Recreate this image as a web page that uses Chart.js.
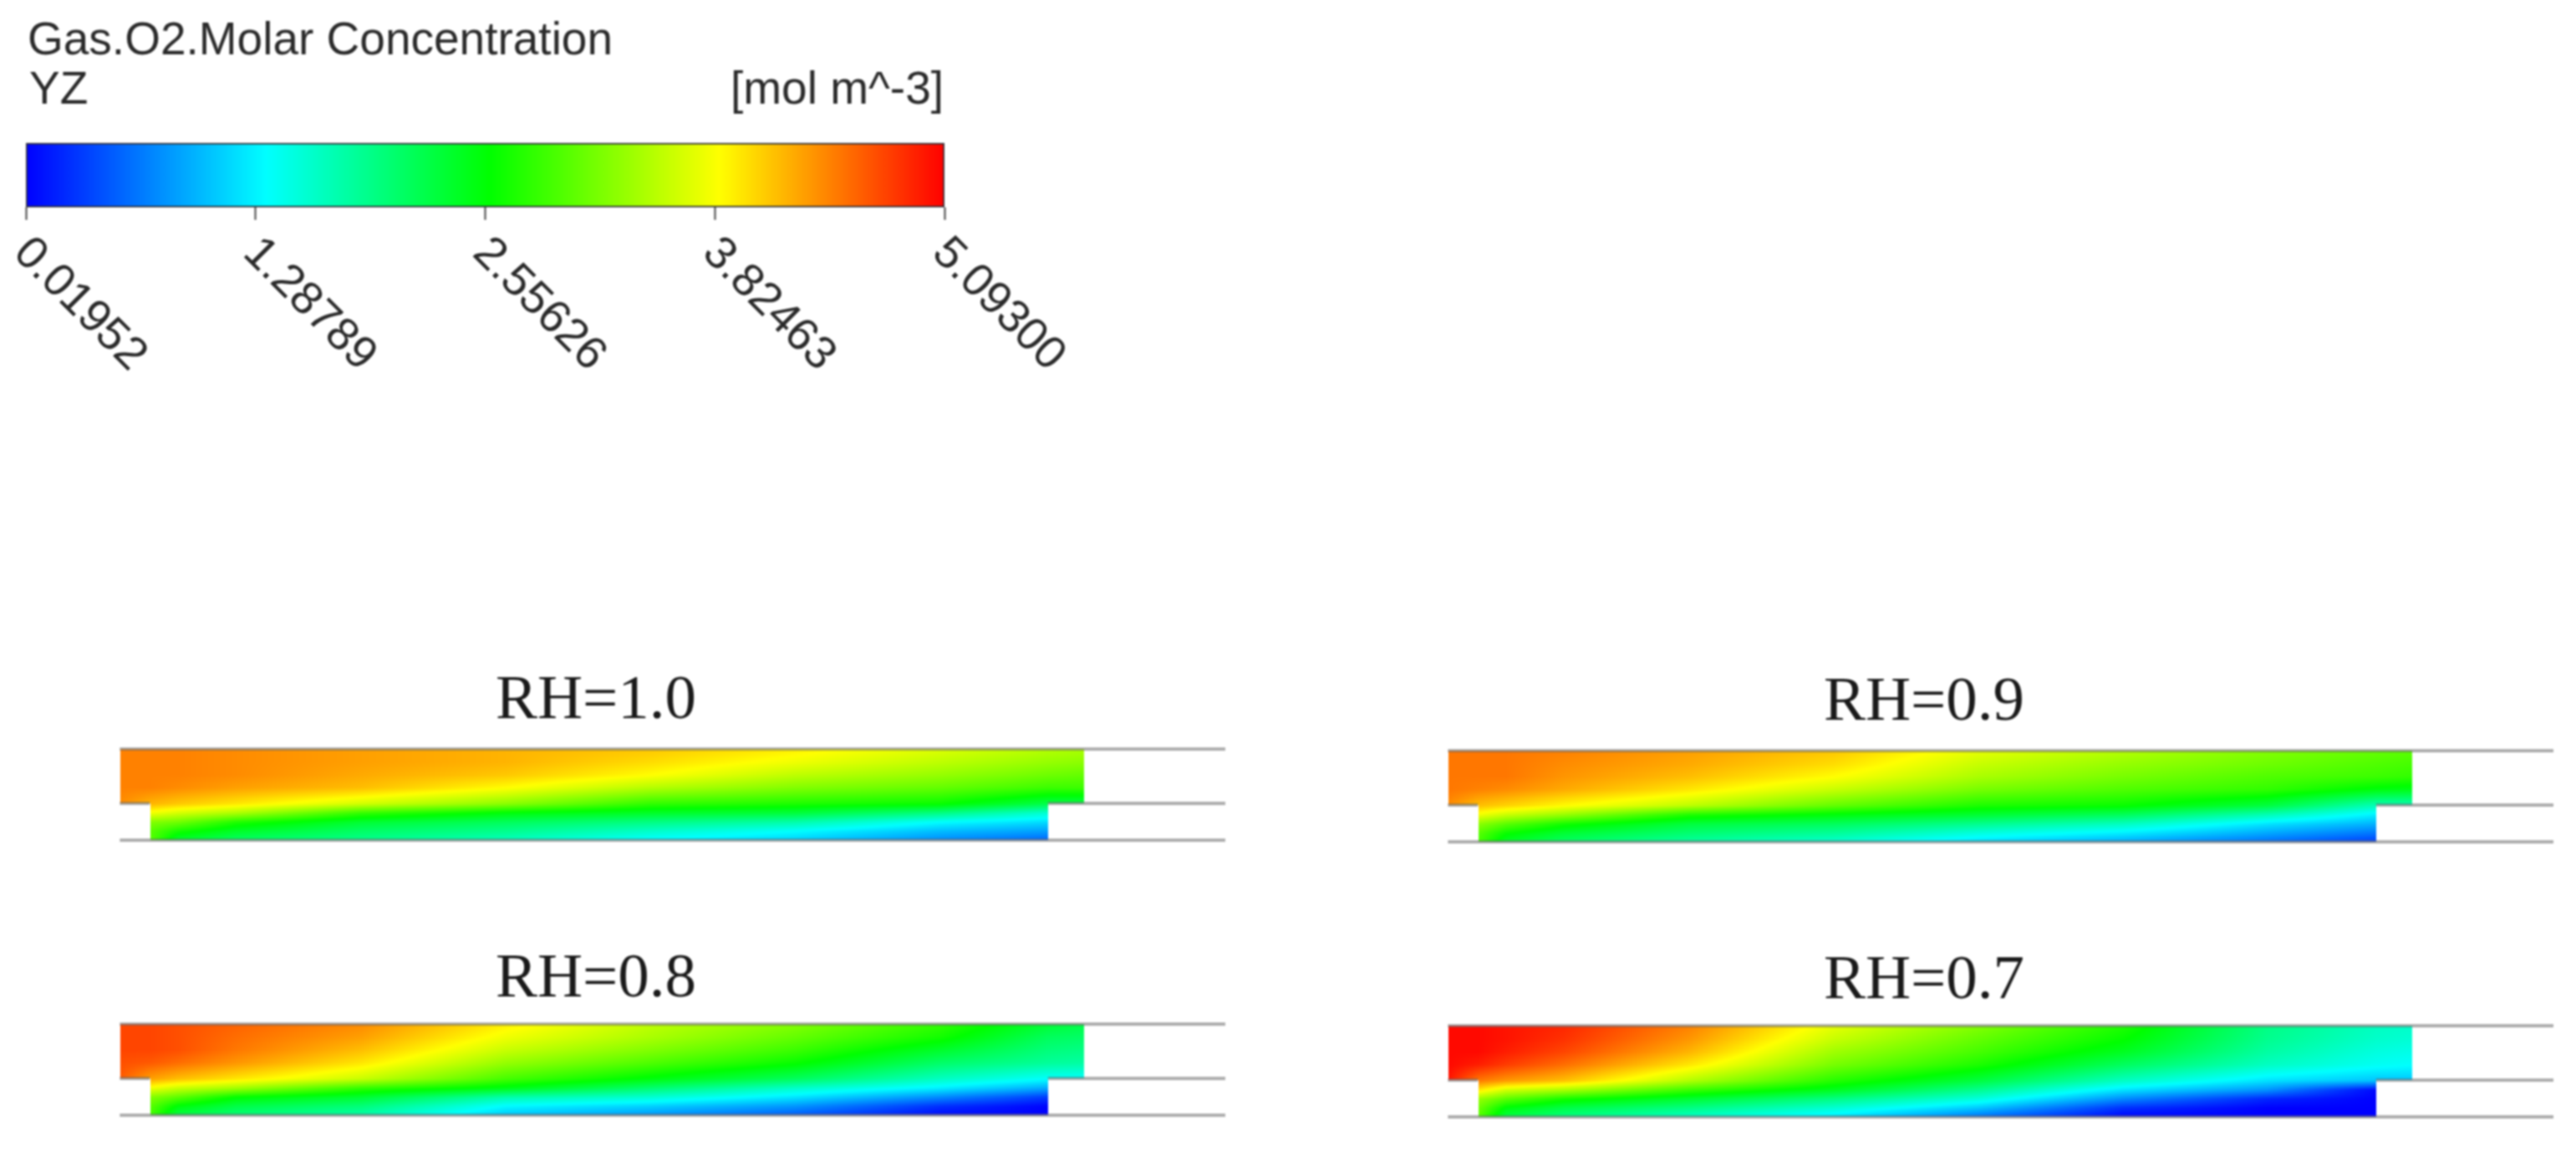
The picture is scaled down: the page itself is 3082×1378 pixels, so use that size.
<!DOCTYPE html>
<html>
<head>
<meta charset="utf-8">
<style>
  html, body { margin: 0; background: #fff; overflow: hidden; width: 3082px; height: 1378px; }
  canvas { position: absolute; filter: blur(0.9px); }
</style>
<script src="https://cdn.jsdelivr.net/npm/chart.js@4"></script>
</head>
<body>
<canvas id="legendChart" width="1300" height="480" style="left:0;top:0"></canvas>
<canvas id="panel10" width="1528" height="240" style="left:-51px;top:780px"></canvas>
<canvas id="panel09" width="1528" height="240" style="left:1538px;top:782px"></canvas>
<canvas id="panel08" width="1528" height="240" style="left:-51px;top:1109px"></canvas>
<canvas id="panel07" width="1528" height="240" style="left:1538px;top:1111px"></canvas>
<script>
// Colour bar
const legendTitle = 'Gas.O2.Molar Concentration';
const legendPlane = 'YZ';
const legendUnits = '[mol m^-3]';
const tickValues = [0.01952, 1.28789, 2.55626, 3.82463, 5.09300];
const tickLabels = ['0.01952', '1.28789', '2.55626', '3.82463', '5.09300'];
const barColors = [[0, 0, 255], [0, 255, 255], [0, 255, 0], [255, 255, 0], [255, 0, 0]];
const barStops = [0, 0.262, 0.505, 0.755, 1];

// Grid nodes of the four fields (fraction of the wide channel, fraction of the height)
const xNodes = [0, 0.031, 0.06, 0.12, 0.25, 0.4, 0.55, 0.7, 0.85, 0.963, 1];
const yNodes = [1, 0.86, 0.72, 0.58, 0.404, 0.3, 0.2, 0.1, 0];

// O2 concentration, one row per yNode
const fieldRH10 = [
  [4.45, 4.45, 4.45, 4.4, 4.3, 4.2, 4.1, 3.9, 3.65, 3.45, 3.4],
  [4.45, 4.45, 4.45, 4.4, 4.3, 4.2, 4.0, 3.75, 3.5, 3.3, 3.25],
  [4.45, 4.45, 4.45, 4.4, 4.25, 4.1, 3.83, 3.5, 3.3, 3.1, 3.05],
  [4.45, 4.45, 4.4, 4.3, 4.15, 3.83, 3.45, 3.2, 3.05, 2.85, 2.85],
  [4.4, 4.2, 4.1, 3.95, 3.6, 3.25, 2.8, 2.7, 2.6, 2.2, 2.2],
  [3.75, 3.75, 3.6, 3.4, 2.8, 2.5, 2.35, 2.25, 1.9, 1.5, 1.5],
  [3.2, 3.2, 3.1, 2.7, 2.3, 2.1, 1.9, 1.7, 1.28, 1.1, 1.1],
  [3.0, 3.0, 2.65, 2.35, 2.05, 1.85, 1.55, 1.28, 0.95, 0.8, 0.8],
  [3.0, 3.0, 2.3, 2.05, 1.85, 1.6, 1.25, 1.05, 0.7, 0.5, 0.5]
];
const fieldRH09 = [
  [4.5, 4.5, 4.5, 4.45, 4.3, 4.1, 3.7, 3.45, 3.2, 3.05, 3.0],
  [4.5, 4.5, 4.5, 4.4, 4.25, 4.0, 3.55, 3.3, 3.1, 2.95, 2.9],
  [4.5, 4.5, 4.5, 4.35, 4.15, 3.83, 3.4, 3.15, 2.95, 2.85, 2.8],
  [4.5, 4.45, 4.4, 4.25, 3.95, 3.55, 3.15, 2.95, 2.8, 2.5, 2.45],
  [4.4, 4.15, 4.05, 3.85, 3.5, 3.05, 2.7, 2.6, 2.25, 1.65, 1.65],
  [3.75, 3.75, 3.55, 3.3, 2.7, 2.5, 2.3, 2.1, 1.65, 1.2, 1.2],
  [3.25, 3.25, 3.0, 2.65, 2.25, 2.1, 1.85, 1.6, 1.15, 0.9, 0.9],
  [3.0, 3.0, 2.6, 2.3, 2.0, 1.8, 1.45, 1.2, 0.85, 0.6, 0.6],
  [2.9, 2.9, 2.35, 2.05, 1.75, 1.5, 1.1, 0.85, 0.55, 0.3, 0.3]
];
const fieldRH08 = [
  [4.75, 4.75, 4.7, 4.6, 4.4, 3.9, 3.5, 3.2, 2.8, 2.3, 2.2],
  [4.75, 4.75, 4.7, 4.55, 4.3, 3.75, 3.4, 3.05, 2.65, 2.1, 2.05],
  [4.75, 4.75, 4.7, 4.5, 4.15, 3.55, 3.2, 2.85, 2.35, 1.95, 1.9],
  [4.7, 4.65, 4.55, 4.35, 3.95, 3.3, 2.95, 2.6, 2.05, 1.8, 1.75],
  [4.65, 4.3, 4.15, 3.95, 3.55, 2.9, 2.5, 2.1, 1.6, 1.3, 1.3],
  [3.75, 3.75, 3.55, 3.35, 2.8, 2.45, 2.0, 1.55, 1.2, 0.85, 0.85],
  [3.2, 3.2, 3.0, 2.55, 2.3, 1.7, 1.5, 1.15, 0.7, 0.3, 0.3],
  [3.0, 3.0, 2.5, 2.2, 1.95, 1.25, 1.05, 0.75, 0.25, 0.03, 0.03],
  [2.9, 2.9, 2.2, 1.95, 1.7, 1.0, 0.75, 0.45, 0.05, 0.02, 0.02]
];
const fieldRH07 = [
  [5.05, 5.05, 5.0, 4.9, 4.45, 3.7, 3.2, 2.7, 1.9, 1.6, 1.55],
  [5.05, 5.05, 5.0, 4.85, 4.35, 3.55, 3.05, 2.58, 1.85, 1.55, 1.5],
  [5.05, 5.05, 4.95, 4.75, 4.2, 3.35, 2.9, 2.4, 1.75, 1.45, 1.4],
  [5.05, 4.95, 4.8, 4.55, 3.95, 3.15, 2.7, 2.1, 1.6, 1.35, 1.3],
  [5.0, 4.5, 4.35, 4.15, 3.45, 2.75, 2.25, 1.6, 1.15, 1.0, 1.0],
  [3.95, 3.95, 3.6, 3.4, 2.85, 2.4, 1.85, 1.15, 0.75, 0.05, 0.05],
  [3.3, 3.3, 3.0, 2.65, 2.3, 1.9, 1.45, 0.7, 0.2, 0.02, 0.02],
  [3.1, 3.1, 2.5, 2.2, 1.9, 1.5, 1.0, 0.25, 0.02, 0.02, 0.02],
  [3.0, 3.0, 2.2, 1.9, 1.55, 1.15, 0.55, 0.02, 0.02, 0.02, 0.02]
];

// Channel outline, same units as the grid
const narrowLeft = 0.031;
const narrowRight = 0.963;
const stepHeight = 0.404;
const wallEnd = 1.147;
const walls = [
  [[0, 1], [wallEnd, 1]],
  [[0, stepHeight], [narrowLeft, stepHeight]],
  [[narrowRight, stepHeight], [wallEnd, stepHeight]],
  [[0, 0], [wallEnd, 0]]
];

function rgb(c) {
  return `rgb(${c[0]},${c[1]},${c[2]})`;
}

// Same colour scale as the bar
function fieldColor(v) {
  let k = 0;
  while (k < tickValues.length - 2 && v > tickValues[k + 1]) k++;
  let t = (v - tickValues[k]) / (tickValues[k + 1] - tickValues[k]);
  t = Math.min(1, Math.max(0, t));
  return [0, 1, 2].map(n => barColors[k][n] + (barColors[k + 1][n] - barColors[k][n]) * t);
}

// Paints the field between the grid points of dataset 0
const fieldPlugin = {
  id: 'fieldPlugin',
  beforeDatasetsDraw(chart) {
    const nodes = chart.getDatasetMeta(0).data;
    const values = chart.data.datasets[0].data;
    const nx = xNodes.length;
    const img = new ImageData(chart.width, chart.height);
    for (let j = 0; j < yNodes.length - 1; j++) {
      for (let i = 0; i < nx - 1; i++) {
        if (yNodes[j] <= stepHeight && (xNodes[i] < narrowLeft || xNodes[i] >= narrowRight)) continue;
        const a = j * nx + i;
        const x0 = nodes[a].x, x1 = nodes[a + 1].x;
        const y0 = nodes[a].y, y1 = nodes[a + nx].y;
        for (let py = Math.ceil(y0); py < Math.ceil(y1); py++) {
          for (let px = Math.ceil(x0); px < Math.ceil(x1); px++) {
            const u = (px - x0) / (x1 - x0), w = (py - y0) / (y1 - y0);
            const top = values[a].v * (1 - u) + values[a + 1].v * u;
            const bottom = values[a + nx].v * (1 - u) + values[a + nx + 1].v * u;
            const c = fieldColor(top * (1 - w) + bottom * w);
            const p = (py * chart.width + px) * 4;
            img.data[p] = c[0]; img.data[p + 1] = c[1]; img.data[p + 2] = c[2]; img.data[p + 3] = 255;
          }
        }
      }
    }
    const tmp = document.createElement('canvas');
    tmp.width = chart.width;
    tmp.height = chart.height;
    tmp.getContext('2d').putImageData(img, 0, 0);
    chart.ctx.drawImage(tmp, 0, 0);
  }
};

function drawPanel(canvasId, label, field, titleTop) {
  const points = [];
  yNodes.forEach((y, j) => xNodes.forEach((x, i) => points.push({ x: x, y: y, v: field[j][i] })));
  const wallSets = walls.map(seg => ({
    data: seg.map(p => ({ x: p[0], y: p[1] })),
    showLine: true,
    pointRadius: 0,
    borderColor: 'rgba(105,105,105,0.55)',
    borderWidth: 4,
    clip: false
  }));
  new Chart(document.getElementById(canvasId), {
    type: 'scatter',
    data: { datasets: [{ data: points, pointRadius: 0, showLine: false }].concat(wallSets) },
    options: {
      responsive: false,
      animation: false,
      devicePixelRatio: 1,
      layout: { padding: { left: 11, right: 11, top: 0, bottom: 15 } },
      plugins: {
        legend: { display: false },
        tooltip: { enabled: false },
        title: {
          display: true,
          text: label,
          color: '#1a1a1a',
          font: { family: 'Liberation Serif', size: 75, weight: 'normal', lineHeight: 1.2 },
          padding: { top: titleTop, bottom: 26 - titleTop }
        }
      },
      scales: {
        x: { display: false, min: -0.159, max: wallEnd },
        y: { display: false, min: 0, max: 1 }
      }
    },
    plugins: [fieldPlugin]
  });
}

// Header text and slanted tick labels of the colour bar
const legendTextPlugin = {
  id: 'legendText',
  afterDraw(chart) {
    const ctx = chart.ctx;
    ctx.save();
    ctx.fillStyle = '#2a2a2a';
    ctx.font = '55px "Liberation Sans"';
    ctx.textBaseline = 'alphabetic';
    ctx.fillText(legendTitle, 33, 65);
    ctx.fillText(legendPlane, 35, 124);
    ctx.textAlign = 'right';
    ctx.fillText(legendUnits, 1129, 124);
    ctx.textAlign = 'left';
    ctx.textBaseline = 'middle';
    tickLabels.forEach((text, i) => {
      ctx.save();
      ctx.translate(chart.scales.x.getPixelForValue(tickValues[i]) - 6, 294);
      ctx.rotate(Math.PI / 4);
      ctx.fillText(text, 0, 0);
      ctx.restore();
    });
    ctx.restore();
  }
};

new Chart(document.getElementById('legendChart'), {
  type: 'bar',
  data: {
    labels: [legendTitle],
    datasets: [{
      data: [[tickValues[0], tickValues[tickValues.length - 1]]],
      backgroundColor(ctx) {
        const area = ctx.chart.chartArea;
        if (!area) return rgb(barColors[0]);
        const grad = ctx.chart.ctx.createLinearGradient(area.left, 0, area.right, 0);
        barColors.forEach((c, i) => grad.addColorStop(barStops[i], rgb(c)));
        return grad;
      },
      borderColor: '#33333a',
      borderWidth: 2,
      borderSkipped: false,
      barPercentage: 1,
      categoryPercentage: 1
    }]
  },
  options: {
    indexAxis: 'y',
    responsive: false,
    animation: false,
    devicePixelRatio: 1,
    layout: { padding: { left: 31, right: 170, top: 171, bottom: 217 } },
    plugins: { legend: { display: false }, tooltip: { enabled: false } },
    scales: {
      x: {
        min: tickValues[0],
        max: tickValues[tickValues.length - 1],
        afterBuildTicks(axis) { axis.ticks = tickValues.map(v => ({ value: v })); },
        ticks: { display: false },
        border: { display: false },
        grid: { drawOnChartArea: false, tickLength: 15, tickColor: '#444', tickWidth: 2 }
      },
      y: { display: false }
    }
  },
  plugins: [legendTextPlugin]
});

drawPanel('panel10', 'RH=1.0', fieldRH10, 14);
drawPanel('panel09', 'RH=0.9', fieldRH09, 14);
drawPanel('panel08', 'RH=0.8', fieldRH08, 18);
drawPanel('panel07', 'RH=0.7', fieldRH07, 18);
</script>
</body>
</html>
